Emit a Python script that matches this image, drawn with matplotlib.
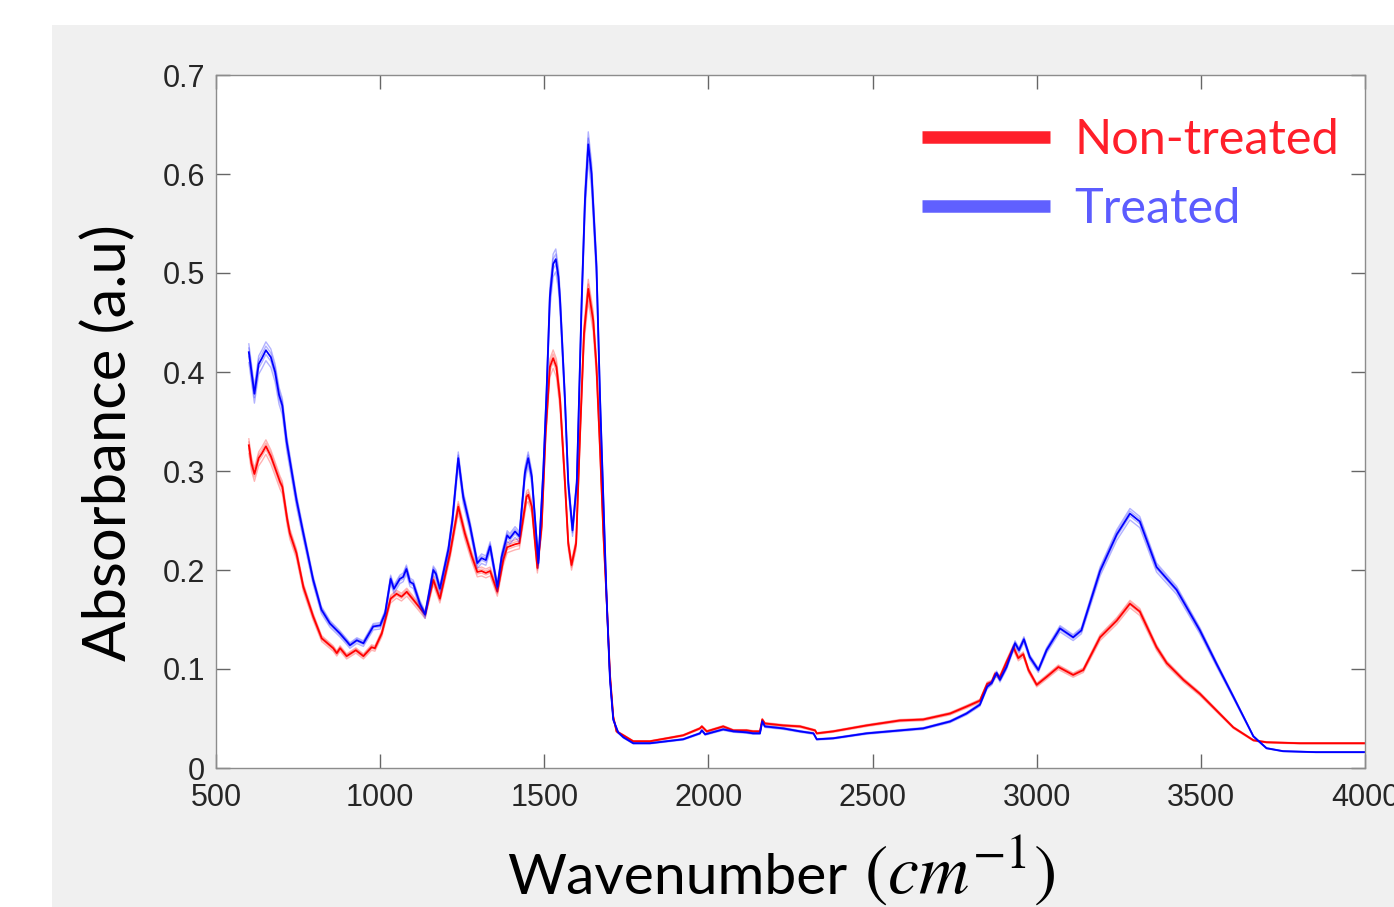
import numpy as np
import matplotlib
matplotlib.use("Agg")
import matplotlib.pyplot as plt
from matplotlib.lines import Line2D
from matplotlib.patches import Rectangle

# ---- data ----
wn_treated = [600, 608, 617, 630, 640, 652, 667, 680, 692, 702, 715, 745, 766, 796, 821, 847, 868, 877,
              898, 908, 929, 949, 979, 1000, 1015, 1032, 1042, 1060, 1070, 1080, 1091, 1101, 1121, 1137,
              1162, 1170, 1182, 1208, 1220, 1238, 1253, 1274, 1296, 1309, 1322, 1335, 1357, 1370, 1387,
              1395, 1411, 1424, 1441, 1451, 1462, 1482, 1497, 1507, 1517, 1527, 1535, 1543, 1548, 1563,
              1573, 1586, 1599, 1614, 1624, 1634, 1644, 1659, 1670, 1690, 1700, 1710, 1725, 1741, 1771,
              1822, 1873, 1923, 1974, 1980, 1990, 2045, 2076, 2116, 2136, 2157, 2164, 2172, 2228, 2279,
              2320, 2330, 2380, 2482, 2583, 2654, 2736, 2786, 2827, 2849, 2863, 2878, 2888, 2908, 2934,
              2946, 2961, 2979, 3005, 3030, 3071, 3111, 3136, 3193, 3244, 3284, 3314, 3365, 3426, 3497,
              3548, 3599, 3660, 3700, 3750, 3850, 4000]
abs_treated = [0.420, 0.400, 0.378, 0.408, 0.414, 0.422, 0.415, 0.400, 0.377, 0.366, 0.330, 0.271, 0.237,
               0.190, 0.160, 0.146, 0.139, 0.136, 0.128, 0.124, 0.129, 0.126, 0.143, 0.144, 0.156, 0.191,
               0.181, 0.191, 0.193, 0.201, 0.188, 0.186, 0.166, 0.155, 0.200, 0.196, 0.181, 0.221, 0.250,
               0.313, 0.274, 0.244, 0.207, 0.212, 0.210, 0.224, 0.183, 0.213, 0.235, 0.232, 0.239, 0.234,
               0.298, 0.313, 0.294, 0.207, 0.300, 0.380, 0.476, 0.509, 0.514, 0.496, 0.473, 0.372, 0.288,
               0.240, 0.288, 0.473, 0.574, 0.630, 0.600, 0.506, 0.372, 0.170, 0.090, 0.049, 0.036, 0.031,
               0.025, 0.025, 0.027, 0.029, 0.035, 0.038, 0.034, 0.039, 0.037, 0.036, 0.035, 0.035, 0.047,
               0.042, 0.040, 0.037, 0.035, 0.029, 0.030, 0.035, 0.038, 0.040, 0.047, 0.055, 0.064, 0.082,
               0.086, 0.096, 0.089, 0.102, 0.126, 0.119, 0.130, 0.112, 0.099, 0.119, 0.141, 0.132, 0.139,
               0.199, 0.236, 0.257, 0.249, 0.203, 0.180, 0.139, 0.105, 0.072, 0.032, 0.020, 0.017, 0.016,
               0.016]

wn_nontreated = [600, 608, 617, 630, 640, 652, 667, 680, 695, 702, 717, 725, 745, 766, 796, 822, 857, 868,
                 878, 898, 926, 949, 974, 984, 1005, 1032, 1050, 1065, 1081, 1101, 1137, 1162, 1182, 1213,
                 1238, 1258, 1279, 1296, 1309, 1322, 1335, 1357, 1375, 1387, 1411, 1424, 1446, 1451, 1462,
                 1479, 1492, 1504, 1517, 1527, 1537, 1548, 1563, 1573, 1583, 1597, 1609, 1621, 1634, 1649,
                 1659, 1670, 1680, 1690, 1700, 1710, 1720, 1741, 1771, 1822, 1873, 1923, 1974, 1980, 1995,
                 2045, 2076, 2116, 2136, 2157, 2164, 2172, 2228, 2279, 2325, 2330, 2380, 2482, 2583, 2654,
                 2736, 2786, 2827, 2849, 2863, 2873, 2888, 2908, 2929, 2944, 2959, 2975, 3000, 3030, 3066,
                 3111, 3142, 3193, 3244, 3284, 3314, 3365, 3396, 3447, 3497, 3548, 3599, 3660, 3700, 3800,
                 4000]
abs_nontreated = [0.326, 0.308, 0.297, 0.313, 0.318, 0.325, 0.315, 0.303, 0.289, 0.284, 0.251, 0.237, 0.217,
                  0.183, 0.153, 0.131, 0.121, 0.116, 0.121, 0.113, 0.119, 0.113, 0.122, 0.121, 0.136, 0.171,
                  0.176, 0.173, 0.178, 0.170, 0.155, 0.190, 0.171, 0.217, 0.264, 0.237, 0.214, 0.198, 0.199,
                  0.197, 0.199, 0.178, 0.210, 0.223, 0.226, 0.227, 0.274, 0.276, 0.264, 0.202, 0.244, 0.338,
                  0.405, 0.414, 0.405, 0.372, 0.288, 0.227, 0.205, 0.227, 0.338, 0.439, 0.484, 0.452, 0.405,
                  0.321, 0.237, 0.170, 0.095, 0.052, 0.037, 0.033, 0.027, 0.027, 0.030, 0.033, 0.040, 0.042,
                  0.037, 0.042, 0.038, 0.038, 0.037, 0.037, 0.049, 0.045, 0.043, 0.042, 0.038, 0.035, 0.037,
                  0.043, 0.048, 0.049, 0.055, 0.062, 0.068, 0.085, 0.087, 0.095, 0.092, 0.107, 0.122, 0.111,
                  0.115, 0.099, 0.084, 0.092, 0.102, 0.094, 0.099, 0.132, 0.149, 0.166, 0.158, 0.122, 0.106,
                  0.089, 0.075, 0.058, 0.041, 0.028, 0.026, 0.025, 0.025]

# relative level of the individual replicate scans
reps_treated = [0.975, 0.99, 1.0, 1.01, 1.02]
reps_nontreated = [0.975, 0.99, 1.0, 1.01, 1.02]

xticks = [500, 1000, 1500, 2000, 2500, 3000, 3500, 4000]
yticks = [0, 0.1, 0.2, 0.3, 0.4, 0.5, 0.6, 0.7]
ytick_labels = ["0", "0.1", "0.2", "0.3", "0.4", "0.5", "0.6", "0.7"]

W, H = 1394, 907
plt.rcParams["mathtext.fontset"] = "stix"

fig = plt.figure(figsize=(W / 100, H / 100), dpi=100)
fig.patch.set_facecolor("white")
# grey MATLAB-like figure background (cropped screenshot)
fig.patches.append(Rectangle((52 / W, 0), 1 - 52 / W, 1 - 25 / H, transform=fig.transFigure,
                             facecolor="#f0f0f0", edgecolor="none", zorder=-10))

ax = fig.add_axes([216 / W, 1 - 768 / H, (1365 - 216) / W, (768 - 75) / H])
ax.set_facecolor("white")

for wn, ab, reps, col in [(wn_nontreated, abs_nontreated, reps_nontreated, "#ff0000"),
                          (wn_treated, abs_treated, reps_treated, "#0000ff")]:
    wn = np.array(wn)
    ab = np.array(ab)
    for s in reps:
        if s == 1.0:
            continue
        ax.plot(wn, ab * s, color=col, lw=1.0, alpha=0.3)
    ax.plot(wn, ab, color=col, lw=1.3)

ax.set_xlim(500, 4000)
ax.set_ylim(0, 0.7)
ax.set_xticks(xticks)
ax.set_yticks(yticks)
ax.set_yticklabels(ytick_labels)
ax.tick_params(direction="in", length=10, width=1, color="#666666", top=True, right=True,
               labelsize=22, labelcolor="#262626")
ax.tick_params(axis="x", pad=11)
ax.tick_params(axis="y", pad=8)
for lab in ax.get_xticklabels() + ax.get_yticklabels():
    lab.set_family("Liberation Sans")
for sp in ax.spines.values():
    sp.set_color("#8c8c8c")
    sp.set_linewidth(1)

handles = [Line2D([], [], color="#ff1f2a", lw=9, solid_capstyle="butt"),
           Line2D([], [], color="#6060ff", lw=9, solid_capstyle="butt")]
ax.legend(handles, ["Non-treated", "Treated"], labelcolor=["#ff1f2a", "#5c5cff"],
          prop=dict(family="Lato", size=35), frameon=False, handlelength=2.63,
          handletextpad=0.5, labelspacing=0.52, borderpad=0, borderaxespad=0,
          loc="upper left", bbox_to_anchor=(922 / W, 1 - 118 / H), bbox_transform=fig.transFigure)

fig.text(507 / W, 1 - 894 / H, "Wavenumber", ha="left", va="baseline",
         fontsize=41, family="Lato")
fig.text(864 / W, 1 - 894 / H, "$(cm^{-1})$", ha="left", va="baseline", fontsize=50)
fig.text(108 / W, 1 - 443 / H, "Absorbance (a.u)", rotation=90, ha="center", va="center",
         fontsize=43, family="Lato")

fig.savefig("out.png", dpi=100)
